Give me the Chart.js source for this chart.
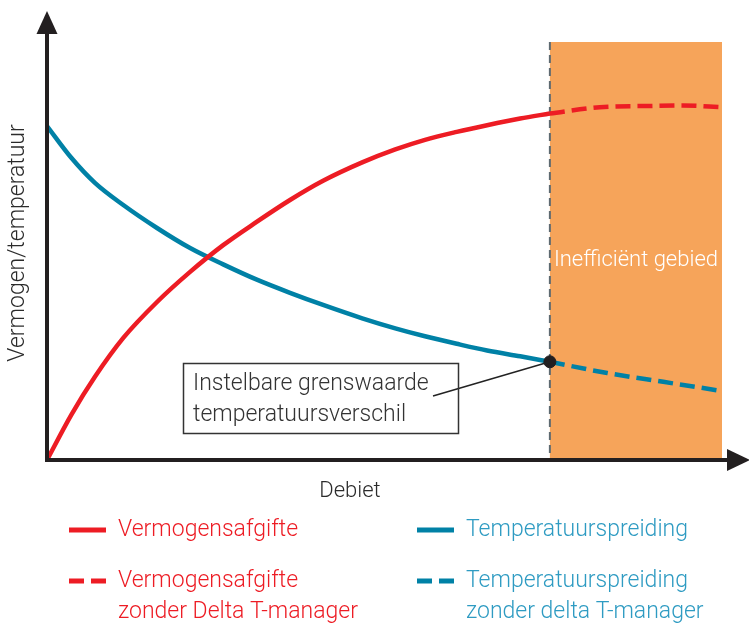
<!DOCTYPE html>
<html>
<head>
<meta charset="utf-8">
<script src="https://cdn.jsdelivr.net/npm/chart.js@4.4.1/dist/chart.umd.min.js"></script>
<style>
html, body { margin: 0; padding: 0; background: #fff; }
#wrap { width: 749px; height: 624px; }
</style>
</head>
<body>
<div id="wrap"><canvas id="deltaChart"></canvas></div>
<script>
// debiet (x) en vermogen / temperatuur (y), beide relatief 0-100
const debiet = [0, 3.6, 7.1, 11.3, 16.3, 21.2, 26.1, 31.0, 36.0, 40.9, 46.7, 51.6, 56.0, 60.7, 65.2, 70.1, 74.5];
const vermogen = [0, 10.8, 19.9, 29.2, 37.8, 45.0, 51.4, 56.9, 62.2, 66.8, 71.2, 74.3, 76.6, 78.5, 80.1, 81.7, 82.9];
const temperatuur = [79.9, 72.3, 66.3, 61.0, 55.5, 50.7, 46.8, 43.2, 40.0, 37.1, 33.9, 31.5, 29.6, 27.8, 26.2, 24.8, 23.5];

// zonder Delta T-manager (voorbij de grenswaarde)
const debietRood = [74.5, 81.9, 89.3, 94.2, 100];
const vermogenZonder = [82.9, 84.4, 84.7, 84.8, 84.4];
const debietBlauw = [74.5, 83, 91.3, 100];
const temperatuurZonder = [23.5, 20.8, 18.7, 16.5];

const grensDebiet = 74.5;
const grensTemperatuur = 23.5;

const legendLabels = [
    ['Vermogensafgifte'],
    ['Temperatuurspreiding'],
    ['Vermogensafgifte', 'zonder Delta T-manager'],
    ['Temperatuurspreiding', 'zonder delta T-manager']
];

const RED = '#ED1C24';
const BLUE = '#0081A6';
const BLUE_TEXT = '#2E9BC2';
const ORANGE = '#F6A45A';
const AXIS = '#231F20';
const FONT = 'Roboto, "Noto Sans", sans-serif';

const toPoints = (xs, ys) => xs.map((x, i) => ({ x: x, y: ys[i] }));

// oranje gebied, grenslijn, assen, annotatie en legenda
const decor = {
    id: 'decor',
    beforeDatasetsDraw(chart) {
        const { ctx, scales: { x, y } } = chart;
        const x0 = x.getPixelForValue(grensDebiet);
        const x1 = x.getPixelForValue(100);
        const yTop = y.getPixelForValue(100);
        const yBot = y.getPixelForValue(0);
        ctx.save();
        ctx.fillStyle = ORANGE;
        ctx.fillRect(x0, yTop, x1 - x0, yBot - yTop);

        ctx.strokeStyle = '#5E6A71';
        ctx.lineWidth = 2;
        ctx.setLineDash([8, 5]);
        ctx.beginPath();
        ctx.moveTo(x0, yTop);
        ctx.lineTo(x0, yBot);
        ctx.stroke();
        ctx.setLineDash([]);

        ctx.fillStyle = '#ffffff';
        ctx.font = '300 22px ' + FONT;
        ctx.textAlign = 'center';
        ctx.textBaseline = 'middle';
        ctx.fillText('Inefficiënt gebied', (x0 + x1) / 2, (yTop + yBot) / 2 + 9);
        ctx.restore();
    },
    afterDatasetsDraw(chart) {
        const { ctx, chartArea, scales: { x, y } } = chart;
        const left = chartArea.left, bottom = chartArea.bottom;
        ctx.save();

        // assen met pijlen
        ctx.strokeStyle = AXIS;
        ctx.fillStyle = AXIS;
        ctx.lineWidth = 4;
        ctx.beginPath();
        ctx.moveTo(left, bottom + 2);
        ctx.lineTo(left, 30);
        ctx.moveTo(left - 2, bottom);
        ctx.lineTo(730, bottom);
        ctx.stroke();
        ctx.beginPath();
        ctx.moveTo(left, 11);
        ctx.lineTo(left - 10.5, 34);
        ctx.lineTo(left + 10.5, 34);
        ctx.closePath();
        ctx.fill();
        ctx.beginPath();
        ctx.moveTo(750, bottom);
        ctx.lineTo(727, bottom - 11);
        ctx.lineTo(727, bottom + 11);
        ctx.closePath();
        ctx.fill();

        // astitels
        ctx.fillStyle = '#2B2B2B';
        ctx.font = '300 22px ' + FONT;
        ctx.textAlign = 'center';
        ctx.textBaseline = 'middle';
        ctx.fillText('Debiet', 350, 491);
        ctx.save();
        ctx.translate(18, 243);
        ctx.rotate(-Math.PI / 2);
        ctx.font = '300 23px ' + FONT;
        ctx.fillText('Vermogen/temperatuur', 0, 0);
        ctx.restore();

        // annotatie
        const px = x.getPixelForValue(grensDebiet);
        const py = y.getPixelForValue(grensTemperatuur);
        ctx.strokeStyle = '#222';
        ctx.lineWidth = 1.5;
        ctx.beginPath();
        ctx.moveTo(433, 396);
        ctx.lineTo(px, py);
        ctx.stroke();
        ctx.strokeStyle = '#333';
        ctx.strokeRect(183.5, 363.5, 275, 70);
        ctx.fillStyle = '#333';
        ctx.textAlign = 'left';
        ctx.font = '300 23px ' + FONT;
        ctx.fillText('Instelbare grenswaarde', 193, 384);
        ctx.fillText('temperatuursverschil', 193, 415);

        // legenda
        const items = [
            { lx: 69, ly: 530, color: RED, text: RED, dashed: false },
            { lx: 417, ly: 530, color: BLUE, text: BLUE_TEXT, dashed: false },
            { lx: 69, ly: 581, color: RED, text: RED, dashed: true },
            { lx: 417, ly: 581, color: BLUE, text: BLUE_TEXT, dashed: true }
        ];
        ctx.font = '300 23px ' + FONT;
        items.forEach((it, i) => {
            ctx.fillStyle = it.color;
            if (it.dashed) {
                ctx.fillRect(it.lx, it.ly - 2.5, 15, 5);
                ctx.fillRect(it.lx + 22, it.ly - 2.5, 15, 5);
            } else {
                ctx.fillRect(it.lx, it.ly - 2.5, 37, 5);
            }
            ctx.fillStyle = it.text;
            legendLabels[i].forEach((line, j) => {
                ctx.fillText(line, it.lx + 49, it.ly + j * 31);
            });
        });
        ctx.restore();
    }
};

const ctx = document.getElementById('deltaChart').getContext('2d');
const deltaChart = new Chart(ctx, {
    type: 'line',
    data: {
        datasets: [{
            label: 'Grenswaarde',
            type: 'scatter',
            data: [{ x: grensDebiet, y: grensTemperatuur }],
            backgroundColor: AXIS,
            borderColor: AXIS,
            pointRadius: 6,
            order: -1
        }, {
            label: legendLabels[0].join(' '),
            data: toPoints(debiet, vermogen),
            borderColor: RED,
            borderWidth: 4.5,
            pointRadius: 0,
            cubicInterpolationMode: 'monotone'
        }, {
            label: legendLabels[1].join(' '),
            data: toPoints(debiet, temperatuur),
            borderColor: BLUE,
            borderWidth: 4.5,
            pointRadius: 0,
            cubicInterpolationMode: 'monotone'
        }, {
            label: legendLabels[2].join(' '),
            data: toPoints(debietRood, vermogenZonder),
            borderColor: RED,
            borderWidth: 4.5,
            borderDash: [15, 7],
            pointRadius: 0,
            cubicInterpolationMode: 'monotone'
        }, {
            label: legendLabels[3].join(' '),
            data: toPoints(debietBlauw, temperatuurZonder),
            borderColor: BLUE,
            borderWidth: 4.5,
            borderDash: [15, 7],
            pointRadius: 0,
            cubicInterpolationMode: 'monotone'
        }]
    },
    options: {
        responsive: true,
        maintainAspectRatio: false,
        animation: false,
        layout: { padding: { left: 47, top: 42, right: 27, bottom: 164 } },
        plugins: { legend: { display: false }, tooltip: { enabled: false } },
        scales: {
            x: { type: 'linear', min: 0, max: 100, display: false },
            y: { min: 0, max: 100, display: false }
        }
    },
    plugins: [decor]
});
</script>
</body>
</html>
